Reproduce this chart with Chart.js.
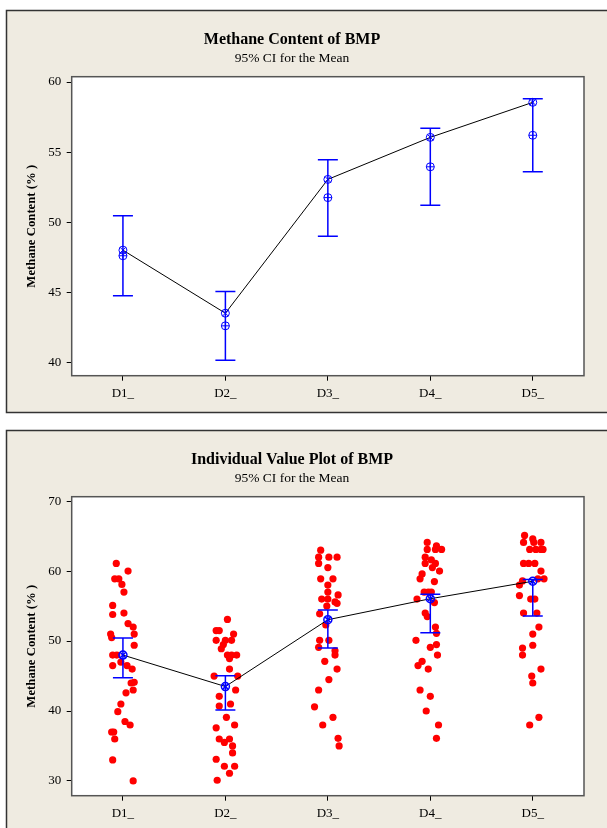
<!DOCTYPE html>
<html>
<head>
<meta charset="utf-8">
<title>Methane Content of BMP</title>
<script src="https://cdn.jsdelivr.net/npm/chart.js@4.4.0/dist/chart.umd.min.js"></script>
<style>
  body { margin: 0; background: #fff; }
  canvas { position: absolute; left: 0; }
</style>
</head>
<body>
<canvas id="ciChart" width="607" height="420" style="top:0"></canvas>
<canvas id="ivChart" width="607" height="408" style="top:420px"></canvas>
<script>
var groups = ['D1_', 'D2_', 'D3_', 'D4_', 'D5_'];
var means = [48.0, 43.5, 53.05, 56.05, 58.55];
var ciLow = [44.75, 40.15, 49.0, 51.2, 53.6];
var ciHigh = [50.45, 45.05, 54.45, 56.7, 58.8];
var medians = [47.6, 42.6, 51.75, 53.95, 56.2];
var ciTicks = [40, 45, 50, 55, 60];
var ivTicks = [30, 40, 50, 60, 70];

// individual observations per group, and their sideways jitter (in category units)
var d1Values = [61.1, 60.0, 58.9, 58.9, 58.1, 57.0, 55.1, 54.0, 53.8, 52.5, 52.0, 51.0, 51.0, 50.5, 49.4, 48.0, 48.0,
  47.0, 46.5, 46.5, 46.0, 44.1, 44.0, 43.0, 42.6, 41.0, 39.9, 38.5, 38.0, 37.0, 37.0, 36.0, 33.0, 30.0];
var d1Jitter = [-0.065, 0.05, -0.08, -0.04, -0.01, 0.01, -0.1, 0.01, -0.1, 0.05, 0.1, -0.12, 0.11, -0.11, 0.11, -0.1, -0.06,
  -0.02, -0.1, 0.04, 0.09, 0.11, 0.08, 0.1, 0.03, -0.02, -0.05, 0.02, 0.07, -0.11, -0.09, -0.08, -0.1, 0.1];
var d2Values = [53.1, 51.5, 51.5, 51.0, 50.1, 50.1, 50.1, 49.5, 48.9, 48.0, 48.0, 48.0, 47.5, 46.0, 45.0, 45.0, 43.0,
  42.1, 41.0, 40.7, 39.1, 38.0, 37.6, 36.0, 36.0, 35.5, 35.0, 34.0, 33.1, 32.1, 32.1, 31.1, 30.1];
var d2Jitter = [0.02, -0.09, -0.06, 0.08, -0.09, 0.0, 0.06, -0.02, -0.04, 0.02, 0.06, 0.11, 0.04, 0.04, -0.11, 0.12, 0.1,
  -0.06, 0.05, -0.06, 0.01, 0.09, -0.09, -0.06, 0.04, -0.01, 0.07, 0.07, -0.09, -0.01, 0.09, 0.04, -0.08];
var d3Values = [63.0, 62.0, 62.0, 62.0, 61.1, 60.5, 58.9, 58.9, 58.0, 57.0, 56.6, 56.0, 56.0, 55.6, 55.4, 55.0, 53.9,
  52.3, 50.1, 50.1, 49.1, 48.6, 48.0, 47.1, 46.0, 44.5, 43.0, 40.6, 39.1, 38.0, 36.1, 35.0];
var d3Jitter = [-0.07, -0.09, 0.01, 0.09, -0.09, 0.0, -0.07, 0.05, 0.0, 0.0, 0.1, -0.06, 0.0, 0.07, 0.09, -0.01, -0.08,
  -0.02, -0.08, 0.01, -0.09, 0.07, 0.07, -0.03, 0.09, 0.01, -0.09, -0.13, 0.05, -0.05, 0.1, 0.11];
var d4Values = [64.1, 63.6, 63.1, 63.1, 63.1, 62.0, 61.6, 61.1, 61.1, 60.5, 60.0, 59.6, 58.9, 58.5, 57.0, 57.0, 57.0,
  56.0, 55.5, 54.0, 53.5, 52.0, 51.1, 50.1, 49.5, 49.1, 48.0, 47.1, 46.5, 46.0, 43.0, 42.1, 40.0, 38.0, 36.1];
var d4Jitter = [-0.03, 0.06, 0.05, 0.11, -0.03, -0.05, 0.01, 0.05, -0.05, 0.02, 0.09, -0.08, -0.1, 0.04, -0.06, -0.02, 0.01,
  -0.13, 0.04, -0.05, -0.03, 0.05, 0.06, -0.14, 0.06, 0.0, 0.07, -0.08, -0.12, -0.02, -0.1, 0.0, -0.04, 0.08, 0.06];
var d5Values = [65.1, 64.6, 64.1, 64.1, 64.1, 63.1, 63.1, 63.1, 63.1, 61.1, 61.1, 61.1, 60.0, 58.9, 58.9, 58.6, 58.0,
  56.5, 56.0, 56.0, 54.0, 54.0, 52.0, 51.0, 49.4, 49.0, 48.0, 46.0, 45.0, 44.0, 39.1, 38.0];
var d5Jitter = [-0.08, 0.0, -0.09, 0.01, 0.08, -0.03, 0.03, 0.08, 0.1, -0.09, -0.04, 0.02, 0.08, 0.05, 0.11, -0.1, -0.13,
  -0.13, -0.02, 0.02, -0.09, 0.04, 0.06, 0.0, 0.0, -0.1, -0.1, 0.08, -0.01, 0.0, 0.06, -0.03];

var serif = "'Liberation Serif', 'Times New Roman', serif";
var blue = '#0000ff';

function points(values, offsets) {
  return values.map(function (v, i) {
    return { x: i + (offsets ? offsets[i] : 0), y: v };
  });
}

var obsPoints = [];
[[d1Values, d1Jitter], [d2Values, d2Jitter], [d3Values, d3Jitter], [d4Values, d4Jitter], [d5Values, d5Jitter]]
  .forEach(function (g, gi) {
    g[0].forEach(function (v, j) {
      obsPoints.push({ x: gi + g[1][j], y: v });
    });
  });

// beige panel, white plot area and its frame
var panelPlugin = {
  id: 'panel',
  beforeDraw: function (chart, args, opts) {
    var ctx = chart.ctx, a = chart.chartArea;
    ctx.save();
    ctx.fillStyle = '#ffffff';
    ctx.fillRect(0, 0, chart.width, chart.height);
    ctx.fillStyle = '#efebe1';
    ctx.fillRect(6, 10, chart.width, opts.height);
    ctx.strokeStyle = '#333333';
    ctx.lineWidth = 1.5;
    ctx.strokeRect(6.5, 10.5, chart.width, opts.height);
    ctx.fillStyle = '#ffffff';
    ctx.fillRect(a.left, a.top, a.right - a.left, a.bottom - a.top);
    ctx.restore();
  },
  afterDraw: function (chart) {
    var ctx = chart.ctx, a = chart.chartArea;
    ctx.save();
    ctx.strokeStyle = '#555555';
    ctx.lineWidth = 1.5;
    ctx.strokeRect(a.left, a.top, a.right - a.left, a.bottom - a.top);
    ctx.restore();
  }
};

// 95% CI whiskers with caps
var ciPlugin = {
  id: 'ciBars',
  afterDatasetDraw: function (chart, args, opts) {
    if (args.index !== opts.after) return;
    var ctx = chart.ctx, xs = chart.scales.x, ys = chart.scales.y;
    ctx.save();
    ctx.strokeStyle = blue;
    ctx.lineWidth = 1.5;
    ciLow.forEach(function (lo, i) {
      var x = xs.getPixelForValue(i);
      var y1 = ys.getPixelForValue(lo), y2 = ys.getPixelForValue(ciHigh[i]);
      ctx.beginPath();
      ctx.moveTo(x, y1); ctx.lineTo(x, y2);
      ctx.moveTo(x - 10, y1); ctx.lineTo(x + 10, y1);
      ctx.moveTo(x - 10, y2); ctx.lineTo(x + 10, y2);
      ctx.stroke();
    });
    ctx.restore();
  }
};

function makeChart(id, title, yMin, yMax, yTicks, datasets, ciAfter, boxHeight) {
  var canvas = document.getElementById(id);
  var h = canvas.height;
  return new Chart(canvas, {
    type: 'scatter',
    data: { datasets: datasets },
    options: {
      responsive: false,
      animation: false,
      devicePixelRatio: 1,
      layout: { padding: { top: 29.8, right: 23, bottom: 0, left: 0 } },
      plugins: {
        legend: { display: false },
        tooltip: { enabled: false },
        title: {
          display: true, text: title, color: '#000',
          font: { family: serif, size: 16, weight: 'bold' },
          padding: { top: 0, bottom: 1.6 }
        },
        subtitle: {
          display: true, text: '95% CI for the Mean', color: '#000',
          font: { family: serif, size: 13.5 },
          padding: { top: 0, bottom: 9.9 }
        },
        panel: { height: boxHeight },
        ciBars: { after: ciAfter }
      },
      scales: {
        x: {
          type: 'linear', min: -0.5, max: 4.5,
          afterBuildTicks: function (s) { s.ticks = groups.map(function (g, i) { return { value: i }; }); },
          afterFit: function (s) { s.height = h - 375.7; },
          ticks: { color: '#000', font: { family: serif, size: 13 }, padding: 5, maxRotation: 0,
            callback: function (v) { return groups[v]; } },
          grid: { drawOnChartArea: false, drawTicks: true, tickLength: 5, color: '#000' },
          border: { display: false }
        },
        y: {
          min: yMin, max: yMax,
          afterBuildTicks: function (s) { s.ticks = yTicks.map(function (v) { return { value: v }; }); },
          afterFit: function (s) { s.width = 71.7; },
          ticks: { color: '#000', font: { family: serif, size: 13 }, padding: 5.5 },
          grid: { drawOnChartArea: false, drawTicks: true, tickLength: 5, color: '#000' },
          border: { display: false },
          title: {
            display: true, text: 'Methane Content (% )', color: '#000',
            font: { family: serif, size: 12.75, weight: 'bold' },
            padding: { top: 24, bottom: 0 }
          }
        }
      }
    },
    plugins: [panelPlugin, ciPlugin]
  });
}

function meanSets(width) {
  return [
    { data: points(means), pointStyle: 'crossRot', pointRadius: 4, borderColor: blue, borderWidth: width },
    { data: points(means), pointStyle: 'circle', pointRadius: 4, borderColor: blue, borderWidth: width,
      backgroundColor: 'rgba(0,0,0,0)' }
  ];
}

makeChart('ciChart', 'Methane Content of BMP', 39.04, 60.38, ciTicks,
  meanSets(1).concat([
    { data: points(medians), pointStyle: 'cross', pointRadius: 4, borderColor: blue, borderWidth: 1 },
    { data: points(medians), pointStyle: 'circle', pointRadius: 4, borderColor: blue, borderWidth: 1,
      backgroundColor: 'rgba(0,0,0,0)' },
    { data: points(means), showLine: true, pointRadius: 0, borderColor: '#000', borderWidth: 1 }
  ]), 4, 402);

makeChart('ivChart', 'Individual Value Plot of BMP', 27.89, 70.64, ivTicks,
  meanSets(1.5).concat([
    { data: points(means), showLine: true, pointRadius: 0, borderColor: '#000', borderWidth: 1 },
    { data: obsPoints, pointStyle: 'circle', pointRadius: 3.6, borderWidth: 0, backgroundColor: '#ff0000' }
  ]), 3, 500);
</script>
</body>
</html>
